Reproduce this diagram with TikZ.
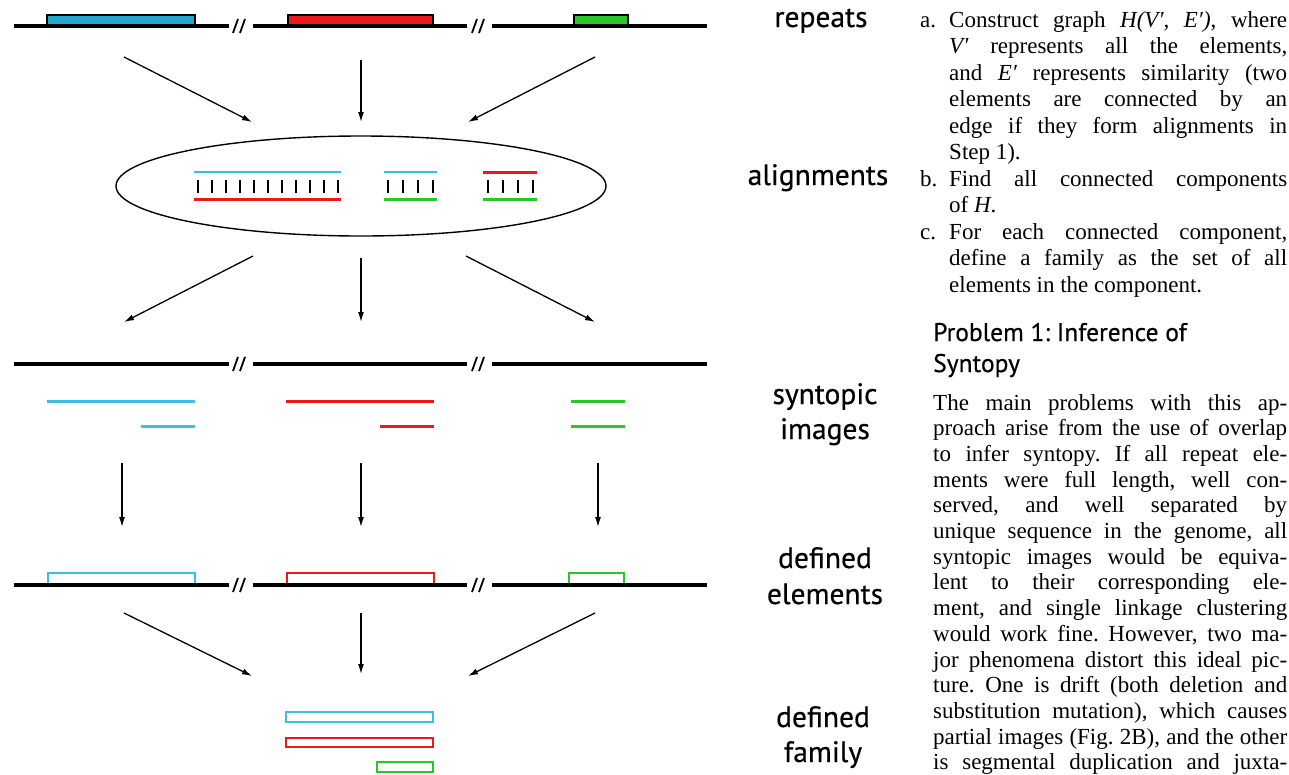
\documentclass[tikz,border=0pt]{standalone}
\usepackage{fontspec}
\setmainfont{Liberation Serif}
\newfontfamily\labfont{PT Sans}[FakeBold=0.5]
\usetikzlibrary{arrows.meta,shapes.geometric}

\definecolor{seqcyan}{RGB}{60,190,225}
\definecolor{boxcyan}{RGB}{35,165,210}
\definecolor{seqred}{RGB}{235,25,25}
\definecolor{seqgreen}{RGB}{40,200,45}

\tikzset{
  genome/.style={line width=4.5pt},
  brk/.style={line width=1.8pt},
  flow/.style={line width=1.3pt,-{Latex[length=10pt,width=6pt]}},
  tickmark/.style={line width=2.4pt},
  seg/.style={line width=3pt},
  openbox/.style={line width=2.2pt},
  steplabel/.style={font=\labfont\fontsize{29.5}{34}\selectfont, anchor=base, inner sep=0pt},
  textblock/.style={anchor=base west, inner sep=0pt},
  headline/.style={textblock, font=\labfont\fontsize{25.5}{33}\selectfont},
}

% one chromosome strip: three pieces separated by break marks
\newcommand{\chromrow}[1]{%
  \draw[genome] (14,#1) -- (229,#1) (253,#1) -- (467,#1) (492,#1) -- (707,#1);
  \foreach \bx in {232,471}{
    \draw[brk] (\bx+1,#1+7) -- (\bx+6,#1-7) (\bx+8,#1+7) -- (\bx+13,#1-7);
  }%
}

\begin{document}
\frenchspacing
\begin{tikzpicture}[x=1pt,y=-1pt]
\useasboundingbox (0,0) rectangle (1289,774);

% ---------- repeats ----------
\draw[line width=1.6pt, fill=boxcyan] (47,15) rectangle (195,26);
\draw[line width=1.6pt, fill=seqred] (288,15) rectangle (433,26);
\draw[line width=1.6pt, fill=seqgreen] (574,15) rectangle (628,26);
\chromrow{26}

% arrows into the alignment ellipse
\coordinate (r1s) at (124,57);  \coordinate (r1e) at (252,122);
\coordinate (r2s) at (361,60);  \coordinate (r2e) at (361,122);
\coordinate (r3s) at (595,57);  \coordinate (r3e) at (468,122);
\draw[flow] (r1s) -- (r1e);
\draw[flow] (r2s) -- (r2e);
\draw[flow] (r3s) -- (r3e);

% ---------- alignments ----------
\node[draw, ellipse, line width=1.4pt, minimum width=490pt, minimum height=100pt, inner sep=0pt] (ell) at (361,186) {};
\draw[seqcyan, line width=2.2pt] (194,172) -- (341,172);
\draw[seqred, seg] (194,199) -- (341,199);
\foreach \i in {0,...,10}{\draw[tickmark] (198+14*\i,180) -- (198+14*\i,193);}
\draw[seqcyan, line width=2.2pt] (384,172) -- (437,172);
\draw[seqgreen, seg] (384,199) -- (437,199);
\foreach \i in {0,...,3}{\draw[tickmark] (388+15*\i,180) -- (388+15*\i,193);}
\draw[seqred, seg] (483,172) -- (537,172);
\draw[seqgreen, seg] (483,199) -- (537,199);
\foreach \i in {0,...,3}{\draw[tickmark] (488+15*\i,180) -- (488+15*\i,193);}

% arrows out of the ellipse
\coordinate (s1s) at (253,256);  \coordinate (s1e) at (124,322);
\coordinate (s2s) at (361,258);  \coordinate (s2e) at (361,322);
\coordinate (s3s) at (466,256);  \coordinate (s3e) at (595,322);
\draw[flow] (s1s) -- (s1e);
\draw[flow] (s2s) -- (s2e);
\draw[flow] (s3s) -- (s3e);

% ---------- syntopic images ----------
\chromrow{364}
\draw[seqcyan, seg] (47,401) -- (195,401);
\draw[seqcyan, seg] (141,426) -- (195,426);
\draw[seqred, seg] (286,401) -- (434,401);
\draw[seqred, seg] (380,426) -- (434,426);
\draw[seqgreen, seg] (571,401) -- (625,401);
\draw[seqgreen, seg] (571,426) -- (625,426);

\coordinate (d1s) at (122,463);  \coordinate (d1e) at (122,527);
\coordinate (d2s) at (361,463);  \coordinate (d2e) at (361,527);
\coordinate (d3s) at (598,463);  \coordinate (d3e) at (598,527);
\draw[flow] (d1s) -- (d1e);
\draw[flow] (d2s) -- (d2e);
\draw[flow] (d3s) -- (d3e);

% ---------- defined elements ----------
\draw[seqcyan, openbox] (48,585) -- (48,573) -- (195,573) -- (195,585);
\draw[seqred, openbox] (287,585) -- (287,573) -- (434,573) -- (434,585);
\draw[seqgreen, openbox] (569,585) -- (569,573) -- (624,573) -- (624,585);
\chromrow{585}

\coordinate (f1s) at (124,613);  \coordinate (f1e) at (252,676);
\coordinate (f2s) at (361,613);  \coordinate (f2e) at (361,674);
\coordinate (f3s) at (595,613);  \coordinate (f3e) at (468,676);
\draw[flow] (f1s) -- (f1e);
\draw[flow] (f2s) -- (f2e);
\draw[flow] (f3s) -- (f3e);

% ---------- defined family ----------
\draw[seqcyan, openbox] (286,712) rectangle (433,722);
\draw[seqred, openbox] (286,738) rectangle (433,747);
\draw[seqgreen, openbox] (377,762) rectangle (433,772);

% ---------- step labels ----------
\node[steplabel] (lrep) at (821,27) {repeats};
\node[steplabel] (lali) at (818,185) {alignments};
\node[steplabel] (lsyn) at (825,404) {syntopic};
\node[steplabel] (limg) at (825,439) {images};
\node[steplabel] (ldef1) at (825,568) {defined};
\node[steplabel] (lele) at (825,604) {elements};
\node[steplabel] (ldef2) at (823,727) {defined};
\node[steplabel] (lfam) at (823,762) {family};

% ---------- text column ----------
\node[textblock] (steps) at (920,27) {\vtop{\fontsize{23}{26.5}\selectfont
  \hsize=367pt \lineskiplimit=-60pt
  \hbox to\hsize{\hbox to 29pt{a.\hfil}Construct graph \textit{H(V′, E′)}, where}
  \hbox to\hsize{\hskip29pt\textit{V′} represents all the elements,}
  \hbox to\hsize{\hskip29pt and \textit{E′} represents similarity (two}
  \hbox to\hsize{\hskip29pt elements are connected by an}
  \hbox to\hsize{\hskip29pt edge if they form alignments in}
  \hbox{\hskip29pt Step 1).}
  \hbox to\hsize{\hbox to 29pt{b.\hfil}Find all connected components}
  \hbox{\hskip29pt of \textit{H}.}
  \hbox to\hsize{\hbox to 29pt{c.\hfil}For each connected component,}
  \hbox to\hsize{\hskip29pt define a family as the set of all}
  \hbox{\hskip29pt elements in the component.}
}};

\node[headline] (head1) at (933,341) {Problem 1: Inference of};
\node[headline] (head2) at (933,372) {Syntopy};

\node[textblock] (body) at (933,410) {\vtop{\fontsize{23}{25.7}\selectfont
  \hsize=354pt \lineskiplimit=-60pt
  \hbox to\hsize{The main problems with this ap-}
  \hbox to\hsize{proach arise from the use of overlap}
  \hbox to\hsize{to infer syntopy. If all repeat ele-}
  \hbox to\hsize{ments were full length, well con-}
  \hbox to\hsize{served, and well separated by}
  \hbox to\hsize{unique sequence in the genome, all}
  \hbox to\hsize{syntopic images would be equiva-}
  \hbox to\hsize{lent to their corresponding ele-}
  \hbox to\hsize{ment, and single linkage clustering}
  \hbox to\hsize{would work fine. However, two ma-}
  \hbox to\hsize{jor phenomena distort this ideal pic-}
  \hbox to\hsize{ture. One is drift (both deletion and}
  \hbox to\hsize{substitution mutation), which causes}
  \hbox to\hsize{partial images (Fig. 2B), and the other}
  \hbox to\hsize{is segmental duplication and juxta-}
}};
\end{tikzpicture}
\end{document}
